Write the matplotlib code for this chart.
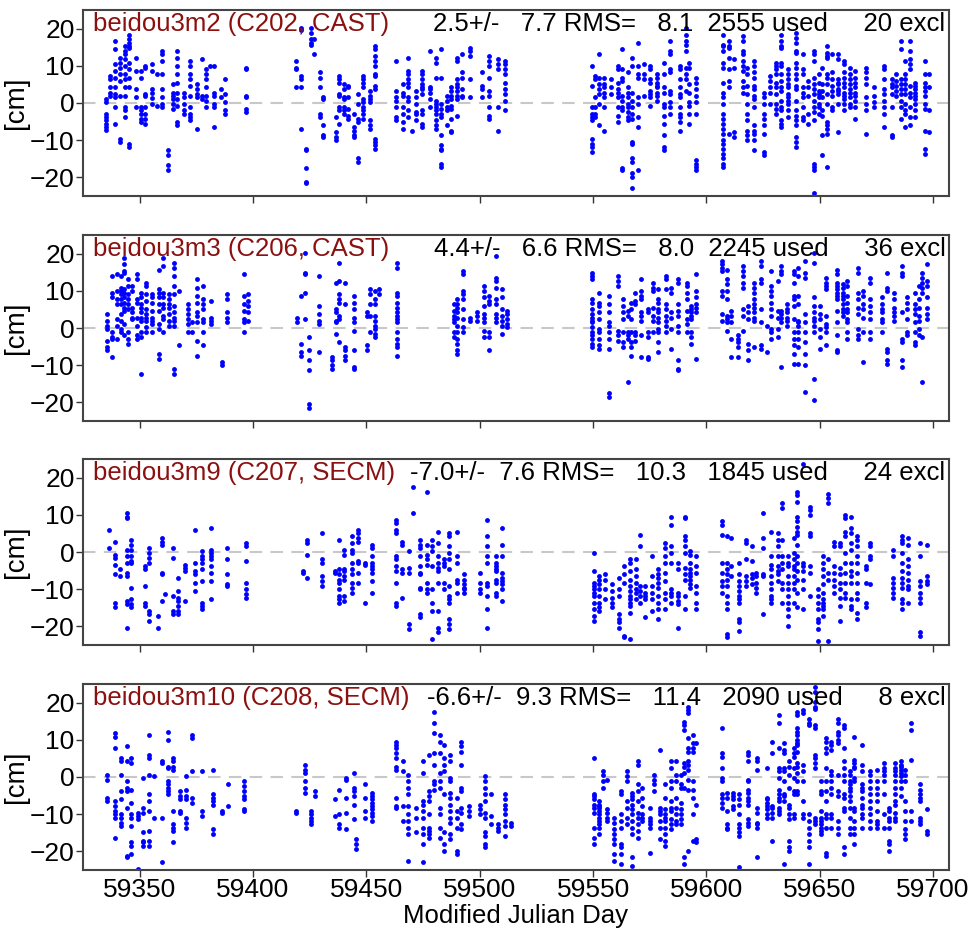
import matplotlib
matplotlib.use("Agg")
import matplotlib.pyplot as plt

plt.rcParams['font.family'] = ['Liberation Sans', 'DejaVu Sans']

# ---------------- data (MJD, [residuals in cm]) ----------------
m2_cols = [
    (59335, [1.1, 0.2, -2.9, -3.8, -4.7, -5.6, -6.5, -7.2]),
    (59337, [7.3, 6.4, 4.2, 2.8, 1.9]),
    (59339, [16.6, 14.4, 10.4, 8.6, 6.8, 4.2, 2.4, 1.5, -1.2, -5.6]),
    (59341.5, [12.2, 10.8, 9.5, 7.7, 6.0, 2.0, -9.6, -10.5]),
    (59343.5, [15.3, 13.9, 13.1, 11.7, 10.0, 7.7, 6.4, 4.2, 2.0, -1.2, -2.0, -3.8]),
    (59345.5, [18.4, 17.1, 16.2, 15.3, 14.8, 10.8, 9.1, 6.8, 4.2, -10.9, -11.8]),
    (59348.5, [12.2, 8.6, 3.7, 1.5, -1.2]),
    (59350.5, [8.6, 6.8, -1.2, -2.0, -2.9, -4.3, -5.2]),
    (59352.5, [10.0, 9.5, 2.4, 2.0, -1.2, -2.9, -4.3, -5.6]),
    (59355.5, [10.4, 8.6, 3.7, 2.8, 1.3, -0.3]),
    (59357.5, [7.7, -0.7]),
    (59360, [13.9, 13.1, 11.3, 7.7, 3.7, 1.5, -0.3, -1.2]),
    (59362.5, [-12.7, -14.0, -16.7, -18.0]),
    (59364.5, [5.1, 2.8, 1.9, 1.1, -0.3, -1.6]),
    (59366.5, [13.9, 12.2, 10.0, 7.7, 5.5, 2.8, 1.1, -0.7, -5.2, -6.0]),
    (59369.5, [2.8, 1.5, -0.3, -2.0, -2.9]),
    (59372, [11.3, 10.0, 7.7, 6.4, 4.6, 2.0, -1.2, -2.9, -3.8, -4.7]),
    (59375.5, [5.1, 3.7, 2.4, 1.5, -6.9]),
    (59377.5, [11.7, 2.0, 1.1]),
    (59379.3, [9.1, 7.7, 6.4, 4.2, 2.0, 0.6, -1.2]),
    (59381, [10.0]),
    (59383, [10.0, 2.8, 2.0, -0.3, -1.2, -6.5]),
    (59386, [3.7, 1.5]),
    (59387.5, [6.4, 2.4, 0.2, -2.0, -2.9]),
    (59397, [9.5, 9.1, 2.0, 1.5, -1.6, -2.5]),
    (59419, [11.3, 9.5, 9.1, 4.2]),
    (59421, [20.2, 19.7, 7.3, 6.4, 4.2, -6.9]),
    (59423.5, [-12.3, -12.7, -17.6, -21.2, -21.6]),
    (59425.5, [20.2, 18.8, 17.1, 16.2, 15.7]),
    (59427, [17.1, 13.1]),
    (59429.5, [8.2, 6.8, 4.2, -2.9, -3.8]),
    (59431, [1.5, 1.1, -6.0, -8.7, -9.2]),
    (59436.5, [-3.8, -7.8, -9.2, -10.0]),
    (59438, [7.3, 6.4, 5.5, 2.4, 2.0, -1.2, -2.0, -5.6]),
    (59440, [5.1, 3.7, 1.5, 1.1, -1.2, -2.0, -2.9]),
    (59442, [4.6, 4.2, 1.5, -1.6, -3.4, -4.3]),
    (59444.5, [-2.9, -6.5, -7.4, -8.7, -9.2]),
    (59446.5, [2.4, -0.3, -4.3, -5.2, -14.9, -15.8]),
    (59448.5, [7.3, 6.4, 5.5, 4.2, 1.1, 0.2, -1.2, -2.0, -2.9, -4.3]),
    (59451.5, [3.3, 2.0, 1.1, 0.2, -4.7, -6.0, -6.9]),
    (59454, [15.3, 14.4, 12.6, 11.3, 10.0, 7.7, 7.3, 4.6, 3.7, -9.6, -10.5, -11.4, -12.3]),
    (59463, [11.3, 3.3, 1.5, 0.6, -1.2, -3.8, -4.7]),
    (59466, [5.1, 2.8, 2.0, -1.2, -2.9, -5.2, -6.9]),
    (59468.5, [12.2, 8.6, 7.7, 6.4, 5.5, 4.2, 1.5, 0.6, -2.0, -3.8]),
    (59470, [-7.4]),
    (59472, [3.3, 1.5, -0.3, -2.5, -2.9, -4.7]),
    (59474.5, [8.6, 7.7, 6.4, 5.1, 4.2, 3.7, 2.4, -2.0, -2.9, -5.6, -6.5]),
    (59478, [13.9, 4.2, 3.7, 2.8, 1.1, -1.2]),
    (59480.5, [12.2, 10.8, 6.8, 0.6, -0.3, -1.2, -2.0, -2.9, -4.7, -6.0, -6.9]),
    (59483, [14.4, 6.8, -0.3, -1.6, -2.9, -3.8, -8.7, -11.4, -12.3, -12.7, -16.3, -17.2]),
    (59485.5, [2.0, 0.6, -1.2, -2.0, -6.0]),
    (59487.5, [4.2, 3.3, 2.0, 1.1, -0.7, -1.6, -4.3, -7.4, -7.8]),
    (59490, [12.2, 11.3, 6.4, 5.1, 4.2, 3.3, 2.0, 1.1, -3.4]),
    (59492, [13.1, 8.2, 6.8, 3.7, 2.0, 1.5]),
    (59495.5, [14.8, 13.9, 12.6, 6.4, 1.5]),
    (59501, [8.2, 4.6, 3.7, 1.5]),
    (59504, [12.6, 11.3, 10.0, 6.8, 3.3, 2.0, -1.2, -3.4, -4.3]),
    (59508, [11.7, 10.4, 9.1, -1.2, -7.4]),
    (59511, [11.3, 10.4, 9.1, 7.7, 5.5, 3.7, 2.4, 0.6, -2.0]),
    (59549.5, [10.0, 4.6, -1.2, -2.9, -3.8, -4.7, -9.6, -10.9, -11.8, -13.1]),
    (59551, [7.3, 6.4, 1.5, -1.2, -2.9, -3.8]),
    (59552.7, [13.1, 6.8, 5.1, 3.7, 2.4, -0.3, -6.0]),
    (59555, [6.8, 5.1, 4.2, 2.8, 1.5, -1.2, -7.4]),
    (59558, [6.4, 4.2, 2.4]),
    (59560.8, [10.0, 9.1, 5.5, 3.7, 2.8, 1.5, -1.2, -3.4, -5.2]),
    (59562.8, [14.4, 9.1, 6.8, 5.9, 2.0, 0.6, -1.2, -2.0, -17.6, -18.0]),
    (59565.2, [8.2, 4.2, 2.8, 1.5, -0.3, -1.2, -2.5, -3.8, -4.7]),
    (59567.2, [12.2, 10.0, 2.8, 0.6, -1.2, -2.9, -4.3, -10.5, -10.9, -14.9, -15.8, -18.9, -19.8, -22.9]),
    (59569.7, [16.2, 10.0, 7.7, 6.8, 1.5, -0.3, -3.8, -6.5, -18.0]),
    (59572.3, [10.4, 7.7, 6.4, 2.0]),
    (59575.3, [10.0, 9.1, 6.4, 5.5, 3.3, 2.4, 1.5, -0.7]),
    (59578.3, [7.7, 6.8, 5.5, 4.6, 4.2, 2.8, 2.0, 0.6]),
    (59581.3, [10.8, 7.7, 4.2, 2.8, -0.3, -1.2, -3.4, -5.6, -8.7, -11.8, -12.7]),
    (59583.8, [16.6, 13.9, 13.1, 9.1, 8.2, 3.3, 2.4, 0.2, -1.2, -2.9]),
    (59588.3, [10.0, 9.1, 6.4, 4.2, 2.4, 1.5, -1.2, -2.9, -3.8, -5.2, -7.4]),
    (59590.8, [20.2, 18.4, 16.6, 15.7, 13.9, 9.5, 7.7, 6.4, 3.3]),
    (59592.4, [10.8, 9.5, 5.1, 2.8, 0.2, -0.7, -2.9, -5.6]),
    (59595.4, [6.8, 5.5, 3.7, 2.0, 0.2, -2.9, -15.4, -16.3, -17.2, -18.0]),
    (59607.4, [18.4, 15.7, 15.3, 13.9, 10.8, 9.5, 5.5, 2.8, 1.5, -0.3, -2.9, -4.3, -5.6, -6.9,
               -8.3, -10.0, -10.9, -12.3, -13.6, -14.9, -16.3, -17.2]),
    (59610, [16.6, 15.3, 14.8, 12.2, 9.1, 6.0, 4.2, -8.3]),
    (59612, [11.7, 9.5, -7.8, -9.2]),
    (59616, [17.9, 16.6, 13.9, 13.1, 11.3, 10.0, 8.7, 6.0, 4.2, 2.8]),
    (59618, [9.5, 7.7, 4.6, 2.4, -0.3, -2.9, -4.7, -7.4, -8.7, -10.0]),
    (59621, [11.3, 10.0, 8.2, 6.8, 4.6, 3.7, 2.0, 1.1, -1.2, -6.0, -7.4, -8.3, -10.0, -12.7]),
    (59625.5, [2.8, 1.5, -0.3, -2.9, -4.3, -6.0, -8.3, -13.1, -14.0]),
    (59628, [7.3, 5.9, 4.2, 2.8, -0.3]),
    (59630.5, [10.8, 10.0, 9.1, 7.7, 5.5, 4.2, 2.4, -0.3, -1.6, -2.9]),
    (59633, [18.4, 16.6, 15.3, 14.8, 10.8, 10.0, 7.7, 6.0, 4.2, 3.3, 0.6, -1.2, -2.0, -4.7, -5.6, -6.5]),
    (59636, [9.1, 7.7, 6.4, 5.1, 4.2, 2.4, 1.5, 0.6, -0.3, -2.0, -3.8]),
    (59639.6, [18.8, 17.5, 16.2, 13.9, 13.5, 10.8, 9.5, 7.7, 6.4, 4.6, 3.7, 0.6, -2.0, -3.4, -4.7,
               -6.0, -9.2, -10.5, -11.8]),
    (59642.6, [13.1, 9.1, 7.7, 4.2, 2.8, 1.5, -1.2, -3.8, -4.7]),
    (59644.6, [6.0, 4.2, 2.0, -2.9, -5.6]),
    (59647.6, [13.9, 13.1, 11.3, 6.8, 5.1, 3.7, 2.4, 0.6, -1.2, -2.5, -4.7, -16.3, -17.2, -18.0, -24.3]),
    (59649.6, [7.7, 5.5, 3.3, 2.4, 1.5, -0.3, -1.2, -2.9]),
    (59651.1, [9.5, 5.1, 3.3, 1.5, -2.0, -3.4, -8.7, -14.0]),
    (59653.1, [15.3, 13.5, 12.6, 12.2, 7.7, 6.8, 5.1, 2.4, -0.3, -5.2, -6.0, -6.9, -8.3, -17.2]),
    (59655.6, [13.1, 8.2, 6.4, 4.6, 3.3, 2.0, -1.2, -2.0]),
    (59658.1, [13.1, 11.7, 6.4, 5.5, 5.1, 3.7, 3.3, 2.4, -0.3, -7.8]),
    (59660.7, [11.3, 10.4, 8.2, 6.8, 5.5, 4.2, 2.8, 2.0, 1.1, -0.3, -2.0]),
    (59663.2, [9.5, 7.7, 6.4, 5.1, 3.7, 2.8, 1.5, -0.3, -1.2]),
    (59665.7, [8.6, 6.8, 5.5, 4.2, 2.8, 2.0, 0.6, -1.2, -4.3]),
    (59670.2, [9.5, 8.2, 6.8, 5.1, 1.5, -0.3, -2.0, -8.3]),
    (59673.7, [4.2, 2.0, 0.2, -1.2]),
    (59678.2, [10.0, 9.1, 6.4, 3.7, 2.4, 0.6, -1.2, -2.9, -6.5]),
    (59681.7, [6.4, 5.1, 4.2, 2.4, -1.2, -8.7, -9.2]),
    (59683.7, [7.7, 6.0, 4.6, 3.3, 2.0]),
    (59685.7, [16.6, 14.4, 6.4, 5.1, 3.7, 2.4, 0.6, -1.2, -4.3]),
    (59687.7, [11.3, 7.7, 6.4, 5.1, 3.7, 2.4, -0.3, -2.0, -2.9, -6.5]),
    (59689.8, [16.6, 13.9, 11.7, 10.4, 9.1, 4.6, 2.8, 1.5, -1.2, -3.8, -6.0]),
    (59691.8, [5.5, 4.6, 3.7, 2.8, 2.0, 1.1, -0.3, -2.0, -3.8]),
    (59696.3, [11.3, 7.7, 5.5, 4.2, 3.3, 2.0, -0.3, -1.6, -7.4, -12.3, -13.6]),
    (59698.3, [7.7, 4.2, -2.0, -7.8]),
]

m3_cols = [
    (59335.5, [3.7, 2.0, 0.6, -0.3, -3.4, -5.2, -6.0]),
    (59338, [14.0, 9.5, 8.2, -1.2, -2.5, -2.9, -7.8]),
    (59339.8, [14.4, 10.0, 7.7, 6.4, 2.4, 0.6, -2.9]),
    (59341.8, [13.9, 10.8, 10.0, 9.1, 7.7, 6.4, 3.7, 2.0, -0.3, -1.2]),
    (59343.3, [18.8, 17.1, 15.3, 14.8, 10.4, 9.5, 8.2, 6.8, 5.5, 4.6, 1.1, -2.0]),
    (59344.8, [13.1, 11.3, 9.1, 7.7, 6.4, 5.1, -1.2, -2.9, -4.3]),
    (59346.8, [11.3, 10.0, 5.5, 4.2, 2.8, 2.4]),
    (59348.8, [14.4, 13.1, 7.7, 6.8, 2.8, 0.6, -2.0, -2.9]),
    (59350.8, [9.5, 8.2, 6.4, 5.5, 4.2, 2.8, 2.0, -1.2, -2.5, -12.3]),
    (59352.8, [12.2, 11.3, 9.1, 7.3, 5.1, 3.7, 2.8, 2.0, 0.2, -1.2]),
    (59355.3, [9.1, 8.2, 6.8, 4.6, 2.8, 2.0, 1.1, -1.2]),
    (59358.5, [15.7, 10.4, 9.5, 8.2, 6.4, 4.6, 1.1, -0.3, -6.9, -8.3]),
    (59360.5, [18.8, 16.6, 9.5, 8.2, 6.4, 5.5, 3.3, 2.4, -1.2]),
    (59363, [9.1, 7.7, 6.4, 5.5, 3.7, 2.0, 0.6]),
    (59365, [17.5, 16.2, 13.9, 11.3, 9.1, 6.0, 4.2, 2.8, 2.0, 0.6, -10.9, -12.3]),
    (59367.5, [10.0, -4.7]),
    (59371.5, [6.4, 5.1, 3.7, 2.4, 1.1, -1.2]),
    (59373, [1.5, -1.2]),
    (59375.5, [13.1, 10.8, 8.6, 6.8, 4.2, 3.3, 1.5, -3.4, -7.4]),
    (59378, [11.3, 7.7, 6.4, 5.1, 2.4, 1.5, -1.2, -4.7]),
    (59381.5, [7.3, 2.8, 2.0, 1.1]),
    (59386.5, [-9.2, -10.0]),
    (59388.5, [9.1, 7.7, 4.2, 2.8, 1.5]),
    (59396, [14.4, 8.6, 6.4, 4.6, 2.4, 1.5, -1.2]),
    (59398, [9.1, 7.3, 6.0, 4.2, 2.0]),
    (59419.5, [2.8, 1.5]),
    (59421, [8.6, -4.3, -6.5, -7.4]),
    (59423, [20.2, 14.8, 14.4, 9.5, 2.4]),
    (59424.5, [-2.5, -6.0, -8.7, -11.4, -20.3, -21.6]),
    (59429, [13.9, 6.0, 3.7, 2.0, 1.1, -6.5]),
    (59435, [-7.8, -8.7, -10.0, -10.9]),
    (59436.5, [12.2, 5.1, 4.2, 2.0, 1.5, -1.6]),
    (59438, [17.5, 12.6, 9.1, 7.7, 6.8, 3.3, 2.4, -3.8]),
    (59440.5, [12.2, 6.4, -5.2, -6.0, -7.4, -8.7]),
    (59444.5, [8.6, 6.8, 5.1, 2.8, 1.5, -0.7, -6.0, -10.5, -10.9]),
    (59450.2, [4.2, 3.3, -4.7, -6.0]),
    (59451.7, [10.4, 9.1, 6.4, 3.3, -1.2]),
    (59453.7, [10.0, 7.7, 6.4, 3.3, 2.0, 0.6, -0.3, -1.6, -2.5]),
    (59455.7, [10.4, 9.1]),
    (59463.5, [17.5, 16.2, 9.5, 8.6, 6.8, 5.5, 4.2, 3.3, 2.4, 1.5, -1.2, -2.9, -4.3, -5.2, -7.4]),
    (59488.5, [6.4, 4.6, 3.3, 2.4, 1.5, -1.2, -2.5]),
    (59490, [7.7, 6.4, 5.5, 4.2, 2.8, 0.6, -1.2, -2.9, -4.3, -6.0, -6.9]),
    (59492.5, [15.3, 14.4, 10.0, 9.1, 7.7, 5.1, 2.4, 0.2, -1.2]),
    (59495.5, [2.8, 2.0]),
    (59499, [4.2, 3.3, 2.0]),
    (59502, [11.3, 10.0, 8.2, 6.0, 3.7, 2.8, 1.5, -0.7, -2.5]),
    (59504, [8.6, 7.3, 6.4, -1.2, -2.5, -6.0]),
    (59507, [19.3, 13.5, 12.6, 10.8, 7.7, 6.4, 3.7, 2.8, 1.5]),
    (59510, [10.4, 8.2, 5.1, 3.3, 2.0, 0.6, -1.6]),
    (59512, [4.6, 3.7, 2.4, 1.1, 0.2]),
    (59549.7, [14.8, 13.9, 13.1, 7.7, 6.8, 5.1, 3.7, 2.8, 2.0, 1.5, 0.2, -1.2, -2.0, -2.9, -4.3, -5.2]),
    (59552.7, [9.5, 6.8, 6.0, 4.2, 2.4, -0.3, -1.2, -2.9, -4.7, -5.6]),
    (59557.2, [8.6, 6.4, 4.2, 1.5, 0.6, -1.2, -2.9, -5.6, -17.6, -18.5]),
    (59560.8, [13.9, 12.6, 11.3, -0.7, -2.0, -3.4]),
    (59563.2, [7.7, 6.0, 4.2, 2.4, -1.2, -3.8, -5.2]),
    (59565.2, [4.6, 3.3, -1.2, -2.0, -2.9, -14.5]),
    (59566.7, [6.8, 5.1, 2.4, -1.2, -3.8, -5.2, -7.4]),
    (59568.3, [9.5, 7.3, 6.4, -1.2, -2.0, -3.4]),
    (59571.3, [13.1, 10.0, 8.6, 7.7, 4.2, 3.3, 2.0, -2.0, -7.8]),
    (59574.3, [5.1, 4.2, -1.2, -2.5, -7.8, -8.3]),
    (59576.3, [12.2, 10.8, 10.0, 5.5, 3.3, 2.0, -1.2]),
    (59578.8, [10.4, 7.7, 6.8, 5.1, 4.2, 2.8, 1.5, -0.3, -1.2, -3.8, -6.5]),
    (59582.3, [13.9, 13.1, 10.4, 6.4, 5.1, 3.3, 2.0, 0.6, -1.2]),
    (59584.3, [10.8, 9.5, 4.2, 2.8, -0.3, -5.6]),
    (59587.4, [13.1, 12.2, 6.4, 4.6, 3.3, 0.6, -1.2, -8.7, -10.9, -11.4]),
    (59591.4, [12.2, 11.3, 9.5, 7.7, 4.6, 2.4, 1.1, -1.2]),
    (59593.4, [6.0, 5.1, 4.2, 3.3, 2.4, -1.2, -2.5, -4.3]),
    (59595.4, [14.4, 10.0, 8.2, 6.4, 5.5, 4.2, -8.3]),
    (59607, [17.9, 17.1, 16.2, 15.3, 10.0, 8.6, 3.7, 2.0]),
    (59609, [15.7, 13.1, 11.7, 10.0, 7.7, 3.3, 2.4, 1.5, -0.7]),
    (59611, [4.6, 3.3, 1.5, -2.9, -7.8]),
    (59614, [-2.0, -2.9, -3.8, -5.2, -7.8]),
    (59616, [16.6, 15.3, 13.9, 12.2, 10.8, 5.1, 3.3, -0.7]),
    (59618.5, [6.0, 4.2, 2.4, -4.3, -6.0, -8.7]),
    (59621, [12.2, 10.8, 9.5, 7.7, 6.4, 5.5, 4.2, 2.8, 2.0, -5.2]),
    (59624, [17.9, 16.6, 13.1, 12.2, 5.1, 1.5, -4.7, -5.6]),
    (59626.5, [0.6, -6.5]),
    (59628.5, [15.3, 11.3, 10.0, 8.6, 6.8, 5.1, 3.3, -0.3, -1.2, -2.9]),
    (59631.5, [12.6, 4.6, 2.8, -0.3, -2.5]),
    (59633, [16.6, 15.3, 14.4, 4.6, 3.7, 2.8, 1.5, -10.5]),
    (59635.6, [6.4, 5.1, 4.2, 2.8, 2.0, 0.6]),
    (59638.6, [15.3, 14.4, 12.2, 8.6, 7.7, 6.0, 2.4, -1.2, -2.9, -4.7, -6.9, -9.6]),
    (59640.6, [16.2, 13.9, 8.6, 6.4, 2.0, 1.5, 0.6, -1.2, -2.9, -5.2, -9.6]),
    (59643.6, [17.9, 14.8, 13.5, 3.7, 1.5, -1.2, -3.8, -6.9, -10.0, -17.2]),
    (59647.6, [20.2, 17.5, 8.2, 6.0, 4.2, 2.8, 2.0, 0.6, -1.2, -13.6, -19.4]),
    (59650.1, [6.0, 3.7, 2.4, -0.3, -2.5, -5.6]),
    (59652.6, [13.5, 12.2, 11.3, 10.4, 3.3, 1.1, 0.2, -1.2, -4.7]),
    (59657.7, [15.7, 14.4, 12.2, 11.3, 10.4, 9.5, 8.6, 7.7, 4.6, 1.5, -2.0, -6.0, -6.5]),
    (59660.2, [11.7, 10.8, 9.5, 8.6, 7.7, 6.4, 5.1, 4.2, 3.3]),
    (59662.2, [12.6, 11.3, 8.6, 6.8, 5.1, 4.2, 2.4, 1.5, -1.2, -2.9]),
    (59666.7, [16.2, 14.8, 9.5, 7.7, 5.5, 3.7, -0.3, -2.0, -2.9]),
    (59669.2, [10.0, 8.6, 6.4, 5.1, 2.8, -1.2, -9.2]),
    (59672.2, [13.5, 12.2, 7.7, 6.0, 4.2, 2.4, -1.2, -2.9]),
    (59677.3, [8.2, 6.4, 5.1, 4.2, 2.4, 1.5, -1.2]),
    (59679.8, [14.8, 10.8, 10.0, -5.6, -6.5, -8.7, -9.6]),
    (59682.8, [9.5, 7.7, 5.5, 4.2, 3.3, 2.0]),
    (59686.3, [16.6, 14.8, 13.9, 4.2, -2.9, -3.8, -8.7, -10.5]),
    (59688.3, [8.2, 6.8, 5.1, 2.4, -1.2, -2.0]),
    (59691.8, [9.5, 6.4, 5.1, 3.7, 1.5, -1.2, -3.8, -4.7]),
    (59693.8, [11.3, 7.7, 5.5, 3.3, 2.0, -0.3, -2.0]),
    (59695.3, [14.8, 13.5, 12.2, 10.8, 9.5, -2.5, -14.5]),
    (59697.3, [17.1, 12.6, 11.3, 8.2, 5.5, 3.7, 2.4]),
]

m9_cols = [
    (59336.5, [6.0, 1.1]),
    (59339, [2.8, -0.7, -1.6, -3.4, -6.0, -13.6, -14.9]),
    (59341.5, [-4.7, -6.5]),
    (59344.2, [10.4, 9.5, 9.1, 0.6, -1.2, -2.9, -5.6, -6.5, -13.1, -14.0, -20.3]),
    (59346.3, [3.3, 2.0, 0.6, -1.2, -2.5, -2.9, -9.6, -12.7, -14.0, -14.9]),
    (59352.3, [-3.8, -4.7, -9.2, -13.6, -14.5]),
    (59354.3, [1.1, -0.3, -1.6, -2.9, -15.8, -16.7, -18.5]),
    (59358.3, [-17.2, -20.3]),
    (59359.8, [3.7, 2.8, 2.0, -5.6, -6.0, -13.1]),
    (59361.3, [-11.4]),
    (59364.8, [1.1, -1.6, -11.8, -15.8, -16.7]),
    (59366.8, [-6.9, -10.5, -12.3, -13.1, -14.5, -15.8, -16.7]),
    (59369.8, [-3.4, -4.3, -5.2, -13.1]),
    (59374.3, [6.0, -2.9, -5.2, -6.0, -8.3, -10.5]),
    (59377.3, [0.2, -1.2, -2.0, -2.9, -4.7, -7.8, -13.6, -14.5, -15.4]),
    (59381.3, [6.4, 0.6, -0.3, -1.2, -2.0, -3.8, -5.6, -7.8, -12.7]),
    (59388.4, [1.1, -2.0, -6.0, -8.7, -9.2]),
    (59397, [2.4, 1.5, -2.5, -8.3, -10.0, -11.4, -12.3]),
    (59422, [-5.2, -5.6]),
    (59424, [3.3, 2.4, -0.7, -6.9]),
    (59430.5, [5.1, -2.0, -2.9, -6.5, -7.8, -9.2]),
    (59436, [-5.2, -5.6]),
    (59438, [3.3, -4.7, -6.0, -7.4, -8.3, -10.0, -11.8, -12.7, -13.6]),
    (59440, [0.6, -0.7, -4.7, -5.2, -6.5, -7.4, -11.8, -13.1]),
    (59443.5, [4.2, 2.4, 0.6, -0.3, -2.9, -4.7, -6.0, -8.3, -9.6, -10.9]),
    (59446.5, [6.0, 5.1, 3.7, 2.8, -2.5, -2.9, -5.6, -8.3]),
    (59449.6, [-2.9, -3.4, -13.6]),
    (59452.6, [2.0, 1.1, -1.2, -2.9, -3.8, -4.7, -5.6, -7.8, -10.9]),
    (59463.2, [8.6, 7.7, 6.0, 5.1, -1.2, -2.0, -3.8, -5.2, -8.3, -13.6, -14.5]),
    (59465.7, [2.8, 2.0, -4.7, -5.6, -12.3]),
    (59468.7, [0.2, -4.3, -5.6, -19.4, -20.7]),
    (59470.7, [17.5, 10.4]),
    (59473.8, [3.3, 2.0, 1.1, -1.2, -3.8, -5.6, -6.0, -9.6, -10.0, -16.7, -17.6]),
    (59476.8, [16.2, 2.0, -0.7, -2.0, -3.4, -8.3, -10.0, -10.9]),
    (59478.8, [3.3, 1.5, 0.2, -3.8, -10.0, -13.6, -15.8, -23.4]),
    (59481.8, [5.5, 2.4, -1.2, -2.9, -4.3, -5.2, -8.3, -15.8, -20.3, -21.6]),
    (59484.3, [-2.0, -2.9, -3.8, -8.3, -10.0]),
    (59486.4, [5.1, 4.2, 1.5, -0.3, -2.0, -4.7, -9.2, -11.8, -12.7, -13.6, -18.0, -19.4, -20.7]),
    (59489.9, [5.5, -1.2, -2.9, -7.4, -8.3, -10.9]),
    (59492.9, [-6.0, -7.4, -8.7, -9.6, -10.0, -10.9]),
    (59500, [-5.6, -8.3, -10.0, -10.9]),
    (59503, [8.6, 4.2, 1.5, -1.2, -2.9, -8.3, -9.2, -11.8, -15.4, -20.3]),
    (59507, [-1.2, -2.9, -3.8, -4.7, -5.2, -7.4, -8.3, -10.9, -11.8]),
    (59510, [6.4, 2.0, -1.2, -5.6, -6.9, -7.8, -8.7, -10.0, -13.1]),
    (59550.2, [-0.3, -5.2, -8.3, -9.2, -10.0, -10.9, -11.8, -13.6, -15.4, -17.2, -18.5]),
    (59552.7, [-6.5, -7.4, -8.7, -10.0, -11.8, -13.6, -14.9, -15.8]),
    (59555.2, [-6.0, -7.4, -10.0, -12.7]),
    (59558.2, [-8.7, -10.5, -12.3, -13.6, -14.9]),
    (59561.3, [-6.9, -10.0, -11.8, -16.7, -18.0, -18.9, -20.3]),
    (59563.8, [-3.8, -6.0, -8.3, -22.5, -22.9]),
    (59566.3, [-2.0, -2.9, -5.2, -7.4, -9.2, -10.5, -11.8, -12.7, -13.6, -14.5, -16.3, -23.4]),
    (59568.8, [-2.0, -4.7, -6.5, -8.3, -10.0, -10.9, -12.7]),
    (59570.8, [4.6, 1.5, -9.2, -10.5, -11.8, -13.6]),
    (59572.8, [-9.2, -10.9, -11.8, -12.7, -17.6]),
    (59575.8, [-1.2, -6.5, -9.2, -10.9, -12.7, -15.8]),
    (59578.8, [-4.7, -6.0, -6.9, -8.3, -9.6, -11.8, -13.6, -15.4, -18.0]),
    (59581.8, [2.4, 1.1, -1.2, -2.9, -5.6, -7.8, -10.9, -12.7, -15.4]),
    (59584.4, [9.5, 7.3, 1.5, -0.3, -2.9, -10.0, -10.9, -11.8, -13.6]),
    (59587.4, [-2.9, -4.7, -10.9, -11.8, -13.1, -14.0, -20.3]),
    (59590.4, [9.5, 9.1, 4.2, 3.3, 1.5, -0.3, -4.3, -6.0, -7.4, -11.8, -15.4]),
    (59592.9, [0.2, -0.7, -2.9, -4.7, -5.6, -6.5, -7.4, -8.7, -9.6]),
    (59595.4, [-1.2, -3.8, -5.6, -9.2, -10.9, -13.6, -15.4]),
    (59607, [8.2, 7.3, 4.6, -2.9, -5.6, -7.8, -9.2, -10.9]),
    (59609, [4.2, -2.9, -4.7, -6.0, -7.4, -9.2, -11.8, -13.6, -15.4, -22.0, -22.9]),
    (59611, [3.7, -3.8, -6.5]),
    (59614.5, [-2.9, -6.0, -7.8, -9.2, -10.5, -11.8, -12.7, -13.6, -18.0, -18.9, -21.2]),
    (59617.5, [3.3, 2.4, -2.0, -6.5, -7.8, -9.2]),
    (59620, [1.5, -2.5, -6.0, -6.9, -8.7]),
    (59622, [-5.6, -6.5, -8.3, -9.6, -10.9]),
    (59625, [10.4, 3.7, 1.1, -6.0, -6.5, -16.7]),
    (59628.5, [5.5, -1.2, -3.4, -4.7, -6.5, -8.3, -10.0, -11.8, -12.7, -13.6]),
    (59631.5, [5.1, 3.3, 1.5, -1.2, -3.8, -5.2, -6.0, -7.8]),
    (59633.5, [13.1, 11.7, 3.3, -1.2, -2.9, -4.7, -8.3, -10.0, -13.6]),
    (59636, [-1.2, -2.9, -3.8, -6.5, -8.3, -10.0, -11.8, -13.6, -15.4, -17.2, -19.8]),
    (59638.6, [3.7, -0.3, -2.0, -3.8, -4.7, -6.5, -8.3, -10.0, -13.6]),
    (59640.1, [16.2, 15.3, 13.5, 9.5, 8.2, 6.8, 5.5, 4.6, 2.0, -1.2, -2.9, -5.2, -7.4, -10.9, -14.9]),
    (59642.6, [23.7, -2.9, -3.8, -5.2, -7.4, -10.0, -15.4]),
    (59645.6, [12.2, 11.3, 10.0, 5.1, 4.2, -3.8, -5.6, -11.8]),
    (59649.1, [-10.0, -11.8, -13.6, -15.4, -18.0, -18.9, -20.7, -23.8]),
    (59651.6, [-1.2, -2.9, -4.7, -6.5, -8.7, -10.9, -12.7, -13.6, -14.5, -15.4, -17.2]),
    (59653.6, [15.7, 14.4, 13.1, -2.0, -5.6, -7.4, -23.8]),
    (59656.2, [2.8, 1.5, -3.8, -5.6, -7.4, -9.2, -10.9]),
    (59658.7, [2.4, 1.5, -4.3, -6.0, -8.3, -10.0, -12.3, -14.5, -18.5]),
    (59661.2, [10.0, 9.1, 5.5, 4.2, -0.3, -2.9, -5.6, -8.3, -10.9, -12.3]),
    (59663.7, [9.5, 6.4, 5.1, 2.4, 0.6, -2.9, -5.2, -6.5, -8.3, -12.7, -14.5, -15.4]),
    (59666.2, [4.2, 3.3, 1.5, -1.2, -2.9, -5.6, -8.3, -10.9, -12.7, -16.3, -18.0]),
    (59670.2, [-3.8, -4.7, -8.3, -13.6, -14.9]),
    (59672.2, [2.4, 1.5, -1.2, -2.0, -8.7]),
    (59682.3, [0.6, -1.2, -6.9, -8.3, -9.6, -10.9, -12.3]),
    (59686.3, [4.2, 3.3, 2.4, -0.3, -2.9, -5.2, -6.9, -8.3, -9.6, -12.7, -13.6, -15.4]),
    (59688.8, [3.7, 2.0, -2.0, -3.8, -5.6, -7.4, -9.2, -10.0, -13.6]),
    (59694.3, [2.4, -1.2, -7.8, -9.2, -10.9, -12.3, -13.6, -21.6, -22.5]),
    (59697.3, [2.0, -6.5, -7.8, -8.7]),
]

m10_cols = [
    (59335.7, [0.6, -0.7, -5.6, -6.5]),
    (59339.2, [11.7, 10.8, 7.7, -6.5, -7.8, -9.2, -10.0, -10.9, -16.3]),
    (59341.7, [5.1, 4.2, 0.6, -3.8, -6.0, -10.0, -10.9, -12.3, -13.1]),
    (59344.2, [8.2, 4.2, -1.2, -2.9, -3.8, -8.3, -21.2, -21.6]),
    (59346.3, [5.1, 3.7, -3.4, -6.9, -10.0, -10.9, -13.1, -17.6, -18.5, -20.7]),
    (59349.3, [-9.6, -10.5, -11.4, -24.7]),
    (59351.3, [-0.3, -8.3, -9.6, -14.9, -17.2, -17.6, -18.5]),
    (59354.3, [11.3, 6.0, 5.1, 0.6, -4.7, -6.5, -9.2, -14.5, -17.2, -18.5]),
    (59356.3, [0.2, -10.9]),
    (59359.8, [4.2, 3.7, -10.9, -22.9]),
    (59362.3, [12.2, 10.0, 2.8, 2.4, -1.2, -2.0, -2.9, -3.8, -4.7]),
    (59364.8, [5.1, 4.2, 2.8, 2.0, -9.2, -12.7, -13.6, -14.5, -17.6]),
    (59367.8, [-3.8, -5.2, -6.0, -9.2, -9.6]),
    (59370.3, [0.2, -3.4, -5.2, -6.0, -10.9, -12.3, -13.6]),
    (59373.3, [11.3, 10.4, 1.5, -5.6, -6.9]),
    (59377.3, [1.5, -9.2, -10.5]),
    (59382.4, [2.0, -4.7, -5.6, -6.5, -7.4, -14.0, -15.4]),
    (59386.4, [-9.2, -9.6]),
    (59388.9, [-2.0, -7.8]),
    (59396, [-1.2, -2.5, -3.8, -5.2, -6.0, -8.7, -9.2]),
    (59419, [-9.2, -9.6]),
    (59423, [3.3, 2.0, 1.1, -1.2, -2.9, -4.3]),
    (59425.5, [-9.2, -10.0, -10.9, -11.8, -12.7]),
    (59427.5, [-3.8, -5.2]),
    (59436, [-6.0, -10.5]),
    (59438, [-3.4, -10.0, -12.7, -13.6]),
    (59441, [-0.3, -0.7, -5.6, -9.6, -14.0]),
    (59444.5, [1.1, -2.9, -3.8, -5.2, -7.4, -11.4]),
    (59445.5, [-16.7, -18.0, -19.4]),
    (59449.6, [-2.0, -5.6, -9.2, -10.9]),
    (59452.6, [-4.3, -5.2, -6.0, -6.9, -7.8, -8.7, -9.6, -10.5, -11.8]),
    (59463.2, [9.5, 8.6, 7.7, 6.4, 5.1, 2.8, 2.0, -5.6, -7.8, -8.3]),
    (59466.2, [4.2, 1.5, -7.8, -11.8]),
    (59468.2, [0.6, -1.2, -2.9, -4.7, -7.8, -10.0, -11.8, -13.6, -15.4, -22.5]),
    (59471.7, [-8.3, -10.9, -14.9]),
    (59474.8, [4.2, 1.1, -6.5, -7.4, -9.2, -10.9, -13.6, -15.4, -18.0, -22.9]),
    (59477.8, [6.0, -3.8, -5.2, -6.5, -10.0, -13.6, -14.5, -15.4, -16.3]),
    (59479.8, [17.5, 14.4, 11.7, 6.4, 3.3, -1.2, -2.0, -3.4]),
    (59482.3, [11.3, 9.5, 6.4, 1.1, -1.2, -2.9, -8.3, -10.0, -13.6, -16.3]),
    (59484.3, [8.6, 5.1, 3.3, 1.5, -4.7, -14.9, -18.0, -19.8]),
    (59486.9, [6.0, 4.2, -0.3, -1.2, -4.3, -5.6, -7.4, -9.2, -10.9, -12.3, -15.4, -16.7]),
    (59489.9, [-5.6, -9.2, -10.9, -13.6, -19.8, -20.7]),
    (59491.9, [9.5, 8.2, 6.8, 3.3, -2.9, -3.8, -8.3, -9.6, -12.7, -14.0]),
    (59495.4, [-7.8, -9.2, -10.5]),
    (59500, [-7.4, -8.7, -10.0]),
    (59502.5, [0.2, -1.2, -2.9, -4.7, -6.5, -9.6, -10.9, -14.9, -15.8, -18.0, -18.9]),
    (59505, [-4.7, -10.5, -12.7]),
    (59508, [-12.7, -13.6, -14.5]),
    (59511, [-4.7, -6.0, -7.4, -8.7, -10.0, -11.8, -13.1, -15.8]),
    (59514, [-12.3, -13.1]),
    (59550.2, [5.1, -4.7, -5.2, -6.0, -7.4, -8.3, -9.6, -13.6, -16.3, -18.0]),
    (59552.7, [-6.5, -7.4, -7.8, -8.3, -9.2, -10.0, -10.9, -11.8, -12.7, -13.6, -15.4]),
    (59554.2, [1.5, 0.6, -1.2, -2.9]),
    (59556.2, [-0.7, -8.7, -9.6, -10.9, -11.8]),
    (59559.2, [-10.9, -12.3, -14.0, -15.4, -16.7, -18.0, -20.7, -22.5]),
    (59562.3, [-3.8, -4.7, -10.0, -11.8, -13.6, -18.0, -18.9, -20.7, -23.4]),
    (59564.8, [1.5, 0.2, -1.2, -6.5, -8.3, -10.9, -12.7]),
    (59567.3, [-4.3, -5.2, -6.0, -7.4, -8.7, -10.0, -11.8, -13.6, -15.4, -21.6, -23.8]),
    (59569.8, [4.2, 3.3, -2.0, -3.8, -6.5, -9.6, -10.9, -12.7, -14.5, -16.3]),
    (59571.8, [-2.9, -5.6, -7.8, -10.0, -10.9, -11.8]),
    (59575.3, [-8.3, -10.9, -11.8, -12.7, -13.6, -20.3]),
    (59576.8, [0.6, -0.7, -2.0, -3.8]),
    (59579.4, [7.3, -8.3, -9.2, -10.0, -11.8, -13.6, -16.7]),
    (59581.9, [-2.0, -5.6, -8.7, -10.0, -10.9, -11.8, -13.6, -15.4, -17.2, -18.5]),
    (59584.4, [4.2, 2.4, -1.2, -2.9, -6.5, -8.3, -9.2, -11.4, -12.7, -14.0]),
    (59586.4, [4.2, 0.6, -1.2, -5.6, -8.3, -10.0, -11.8, -12.7]),
    (59588.9, [0.6, -2.0, -2.9, -6.9, -8.7, -10.0, -11.4, -12.7]),
    (59589.9, [14.8, 13.9, 12.6, 3.7, 2.8, 1.1, -2.9, -21.6, -23.4]),
    (59591.9, [18.8, 17.9, 17.1, 10.4, 7.7, 6.8, 4.2, 3.3, 2.0, -0.7, -3.4, -19.8]),
    (59593.9, [11.3, 9.1, 7.7, 6.8, -1.2, -3.4, -5.6, -10.0, -17.2]),
    (59595.4, [9.1, -7.4, -16.7, -17.6]),
    (59607, [13.1, 6.4, 5.5, 2.4, -0.3, -1.2, -4.7, -5.6, -6.9, -8.3]),
    (59609, [-4.3, -5.6, -9.2, -12.7, -13.6, -14.0]),
    (59611.5, [-4.3, -5.2, -6.0, -7.8, -8.7]),
    (59614.5, [-4.7, -6.0, -7.4, -10.0, -12.7, -13.6, -14.9, -15.8, -24.3]),
    (59618.5, [6.8, 6.0, 4.2, -0.7, -1.2, -3.4, -4.3, -5.6, -6.5, -7.4, -11.4, -12.3, -13.1]),
    (59622.5, [5.1, 4.2, 2.0, -8.3, -9.6, -12.3, -12.7, -13.6, -21.6]),
    (59626.5, [2.4, -5.6, -6.0, -6.9, -7.8, -8.7, -10.0, -10.9]),
    (59629, [9.5, 6.4, -7.8, -8.3, -9.6, -10.9, -17.2]),
    (59632, [16.6, 14.4, 7.7, 2.4, 1.5, -0.3, -3.4, -4.7, -5.6, -6.5, -8.3, -9.2, -10.0]),
    (59634, [9.1, 7.3, 6.4, 2.4, 1.5, -1.2, -4.7, -5.2, -6.5, -23.4]),
    (59636.5, [4.2, 2.8, 0.6, -2.9, -7.4, -8.3, -10.0, -11.4, -17.2, -18.9, -19.8]),
    (59638.6, [7.7, 6.4, 5.5, 2.4, -0.3, -3.8, -4.7, -10.0, -10.9]),
    (59640.1, [17.5, 16.6, 13.1, 12.2, 11.3, 10.0, 9.1, 8.6, 6.8, 3.7, 2.8, 1.1, -1.2, -3.8, -4.7]),
    (59642.6, [17.9, 17.1, 3.3, 1.5, -1.2, -6.5, -10.0, -10.9]),
    (59645.1, [15.7, 14.4, 13.9, -10.0, -11.8, -13.6, -15.4, -17.2, -18.9, -23.4]),
    (59648.1, [24.2, 22.8, 20.2, 18.8, 18.4, 13.9, 13.1, 6.0, 5.1, 3.7, 2.4, -10.9, -11.8, -12.7]),
    (59650.6, [-1.2, -3.8, -4.7, -9.2, -10.9, -11.8, -12.7, -13.6, -14.5, -15.4]),
    (59652.6, [10.4, 9.5, 7.7, 6.4, 2.4, -1.2, -3.8, -6.5, -10.0, -10.9, -13.6, -20.3, -21.2]),
    (59655.1, [9.5, 8.6, 7.3, 1.5, 0.6, -1.2, -2.9, -4.7, -10.0, -10.9, -13.6]),
    (59658.1, [15.7, 14.4, 12.2, 11.3, 10.0, 9.1, 0.6, -3.8, -5.2, -11.8, -13.6, -15.4]),
    (59660.7, [13.9, 13.1, 7.7, 4.2, 2.4, 0.6, -1.2, -4.7, -5.6, -8.3, -9.2, -18.9, -20.7]),
    (59663.2, [1.5, 0.6, -1.2, -2.0, -2.9, -3.8, -5.2, -6.5, -8.3, -10.9, -13.6, -15.4]),
    (59665.2, [10.8, 4.6, 3.7, 2.8, 2.4, -0.3, -1.2, -8.3, -9.2, -11.8, -13.6, -15.4, -18.0]),
    (59668.7, [8.6, 3.3, 1.5, -2.0, -2.9, -3.8, -5.6, -7.4, -8.3, -10.0, -10.9, -13.6]),
    (59672.2, [1.5, 0.6, -1.2, -2.9, -4.7, -6.5, -8.3, -10.0, -11.8, -13.6]),
    (59675.2, [2.0, -1.2, -2.9, -4.7, -6.5, -9.2, -11.8, -12.7, -13.6]),
    (59678.2, [3.7, 2.4, 1.5, 0.6, -1.2, -4.7, -10.0, -13.6]),
    (59680.7, [-8.3, -9.2, -10.9, -11.8, -13.6, -17.2, -18.0, -19.8]),
    (59683.3, [3.7, 2.4, 1.5, 0.6, -1.2, -2.9, -4.7, -6.5, -7.4, -9.6, -10.9, -11.8]),
    (59685.8, [4.2, 3.3, 2.8, 2.0, 1.1, 0.2, -1.2, -2.9, -5.2]),
    (59687.8, [2.0, 0.6, -1.2, -6.5, -9.2, -11.8, -14.0, -15.4, -16.7]),
    (59690.3, [14.4, 12.6, 4.6, -9.2, -11.8]),
    (59694.3, [-2.0, -3.4, -4.7, -5.6, -6.5, -10.9, -11.8, -12.7]),
    (59697.3, [-8.7, -14.5, -15.4]),
]

sat_names = ["beidou3m2 (C202, CAST)", "beidou3m3 (C206, CAST)",
             "beidou3m9 (C207, SECM)", "beidou3m10 (C208, SECM)"]
sat_cols = [m2_cols, m3_cols, m9_cols, m10_cols]
sat_stats = [
    "2.5+/-   7.7 RMS=   8.1  2555 used     20 excl",
    "4.4+/-   6.6 RMS=   8.0  2245 used     36 excl",
    "-7.0+/-  7.6 RMS=   10.3   1845 used     24 excl",
    "-6.6+/-  9.3 RMS=   11.4   2090 used     8 excl",
]

x_ticks = [59350, 59400, 59450, 59500, 59550, 59600, 59650, 59700]
y_ticks = [-20, -10, 0, 10, 20]

# ---------------- figure ----------------
W, H = 979, 931
fig = plt.figure(figsize=(W / 100, H / 100), dpi=100)

left = 83 / W
width = (949 - 83) / W
tops = [10, 235, 459, 684]
ph = 186

for i in range(4):
    bottom = 1 - (tops[i] + ph) / H
    ax = fig.add_axes([left, bottom, width, ph / H])
    xs, ys = [], []
    for day, vals in sat_cols[i]:
        for v in vals:
            xs.append(day)
            ys.append(v)
    ax.axhline(0, color='#c8c8c8', lw=1.5, ls=(0, (6, 4)), zorder=1)
    ax.plot(xs, ys, 'o', color='#0000ff', ms=3.5, mew=0, zorder=2)
    ax.set_xlim(59325, 59707)
    ax.set_ylim(-25, 25)
    ax.set_xticks(x_ticks)
    ax.set_yticks(y_ticks)
    ax.tick_params(direction='out', length=5, width=1, colors='#333333',
                   labelsize=19, labelcolor='black', pad=1)
    if i < 3:
        ax.set_xticklabels([])
    else:
        ax.set_xlabel("Modified Julian Day", fontsize=18.5)
        ax.xaxis.label.set_verticalalignment('bottom')
        ax.xaxis.set_label_coords(0.5, -58 / ph)
    ax.set_ylabel("[cm]", fontsize=20)
    ax.yaxis.set_label_coords(-0.062, 0.5)
    for s in ax.spines.values():
        s.set_color('#444444')
        s.set_linewidth(1.5)
    ax.text(0.011, 0.99, sat_names[i], transform=ax.transAxes, ha='left', va='top',
            fontsize=18.5, color='#8b1010', zorder=5)
    ax.text(0.996, 0.99, sat_stats[i], transform=ax.transAxes, ha='right', va='top',
            fontsize=18.5, color='black', zorder=5)

fig.savefig("out.png", dpi=100)
